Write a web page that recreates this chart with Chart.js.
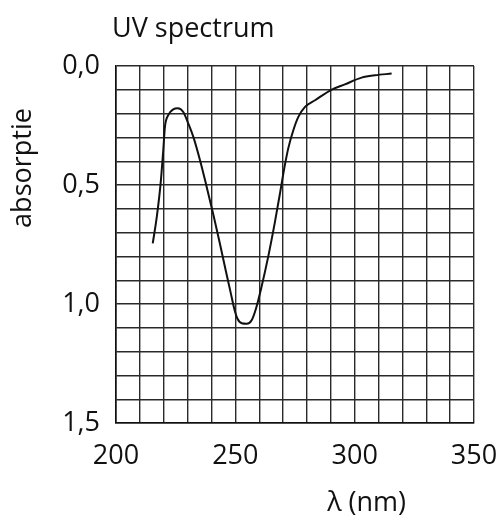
<!DOCTYPE html>
<html>
<head>
<meta charset="utf-8">
<script src="https://cdn.jsdelivr.net/npm/chart.js@4/dist/chart.umd.min.js"></script>
<style>
  html, body { margin: 0; padding: 0; background: #fff; }
  canvas { display: block; }
</style>
</head>
<body>
<canvas id="c" width="499" height="517"></canvas>
<script>
const chartTitle = 'UV spectrum';
const xTitle = 'λ (nm)';
const yTitle = 'absorptie';

const wavelength = [215.4, 217.1, 218.7, 219.8, 220.5, 221.9, 224.0, 225.8, 228.2, 230.3, 232.4, 235.2, 238.0, 240.8, 243.5, 246.0, 248.0, 249.5, 250.8, 252.7, 254.8, 256.9, 258.7, 261.0, 263.8, 266.6, 268.8, 270.5, 272.2, 274.3, 276.4, 279.2, 283.4, 290.4, 295.9, 302.9, 308.5, 315.5];
const absorbance = [0.745, 0.633, 0.493, 0.354, 0.256, 0.206, 0.182, 0.177, 0.193, 0.242, 0.298, 0.396, 0.508, 0.625, 0.745, 0.860, 0.950, 1.018, 1.060, 1.081, 1.083, 1.067, 1.018, 0.927, 0.800, 0.655, 0.530, 0.430, 0.345, 0.270, 0.214, 0.172, 0.144, 0.099, 0.077, 0.049, 0.039, 0.032];

const xTickValues = [200, 250, 300, 350];
const xTickLabels = ['200', '250', '300', '350'];
const yTickValues = [0, 0.5, 1.0, 1.5];
const yTickLabels = ['0,0', '0,5', '1,0', '1,5'];

const FONT = '"Open Sans", sans-serif';

function labelFor(values, labels, v) {
  for (let i = 0; i < values.length; i++) {
    if (Math.abs(values[i] - v) < 1e-6) return labels[i];
  }
  return '';
}

const titlesPlugin = {
  id: 'titles',
  afterDraw(chart) {
    const ctx = chart.ctx;
    const a = chart.chartArea;
    ctx.save();
    ctx.fillStyle = '#111';
    ctx.font = '27px ' + FONT;
    ctx.textAlign = 'left';
    ctx.textBaseline = 'alphabetic';
    ctx.fillText(chartTitle, a.left - 4, 37);
    ctx.textAlign = 'center';
    ctx.textBaseline = 'middle';
    ctx.fillText(xTitle, a.left + (a.right - a.left) * 0.70, 503);
    ctx.translate(23, 168);
    ctx.rotate(-Math.PI / 2);
    ctx.fillText(yTitle, 0, 0);
    ctx.restore();
  }
};

new Chart(document.getElementById('c'), {
  type: 'line',
  data: {
    datasets: [{
      data: wavelength.map((x, i) => ({ x: x, y: absorbance[i] })),
      borderColor: '#111',
      borderWidth: 2,
      pointRadius: 0,
      fill: false,
      cubicInterpolationMode: 'monotone'
    }]
  },
  options: {
    responsive: false,
    animation: false,
    devicePixelRatio: 1,
    layout: { padding: { top: 66, right: 25, left: 0, bottom: 0 } },
    plugins: { legend: { display: false }, tooltip: { enabled: false }, title: { display: false } },
    scales: {
      x: {
        type: 'linear',
        min: 200, max: 350,
        afterFit(scale) { scale.height = 94; scale.paddingRight = 0; scale.paddingLeft = 0; },
        ticks: {
          stepSize: 10,
          autoSkip: false,
          maxRotation: 0,
          padding: 17,
          color: '#111',
          font: { family: FONT, size: 27 },
          callback: (v) => labelFor(xTickValues, xTickLabels, v)
        },
        grid: { color: '#2a2a2a', lineWidth: 1.4, drawTicks: false },
        border: { color: '#111', width: 1.6 }
      },
      y: {
        type: 'linear',
        reverse: true,
        min: 0, max: 1.5,
        afterFit(scale) { scale.width = 116; scale.paddingTop = 0; scale.paddingBottom = 0; },
        ticks: {
          stepSize: 0.1,
          autoSkip: false,
          padding: 16,
          color: '#111',
          font: { family: FONT, size: 27 },
          callback: (v) => labelFor(yTickValues, yTickLabels, v)
        },
        grid: { color: '#2a2a2a', lineWidth: 1.4, drawTicks: false },
        border: { color: '#111', width: 1.6 }
      }
    }
  },
  plugins: [titlesPlugin]
});
</script>
</body>
</html>
